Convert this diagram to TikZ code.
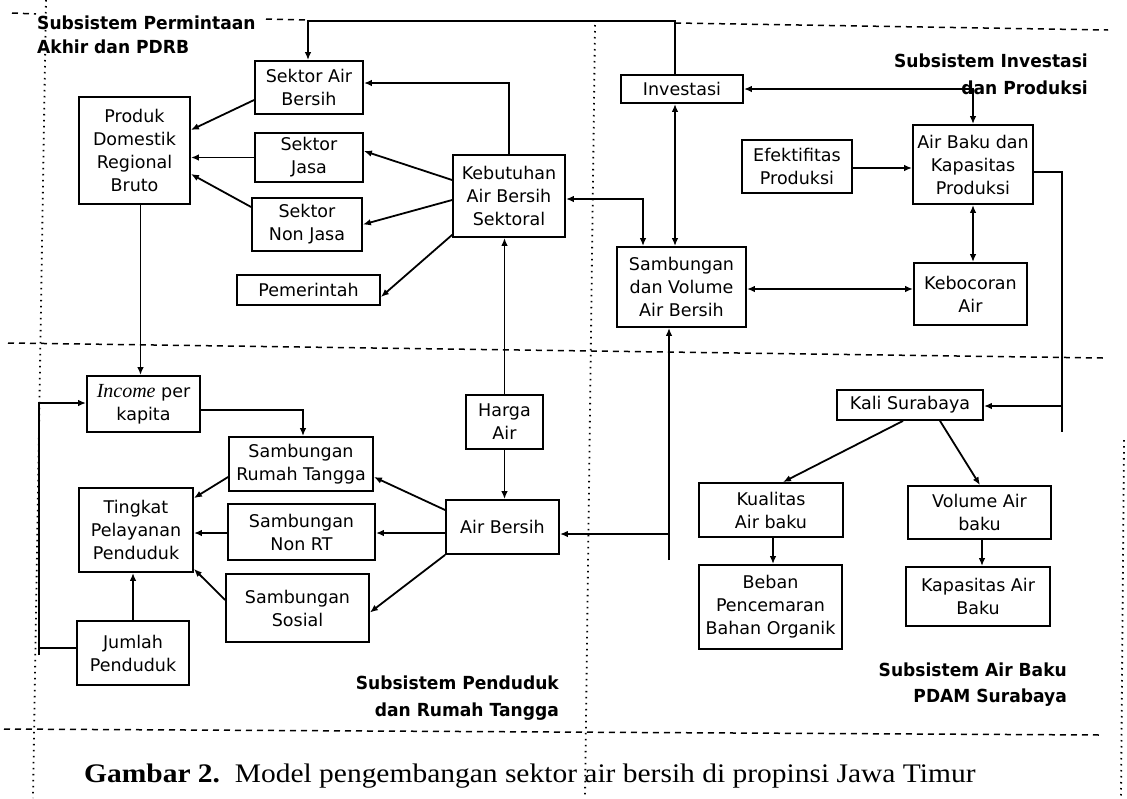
\documentclass[tikz,border=0pt]{standalone}
\usepackage{fontspec}
\setmainfont{DejaVu Sans}
\newfontfamily\boxfont{DejaVu Sans}
\newfontfamily\titlefont{DejaVu Sans}[FakeStretch=0.95]
\newfontfamily\seriffont{Liberation Serif}
\newfontfamily\capfont{Liberation Serif}[FakeStretch=1.1]
\usetikzlibrary{arrows.meta}
\begin{document}
\begin{tikzpicture}[x=1pt,y=-1pt,
  box/.style={draw, line width=1.8pt, inner sep=0pt, align=center, font=\boxfont\fontsize{17.5}{23}\selectfont},
  conn/.style={line width=1.8pt, -{Latex[length=8pt,width=6.5pt]}},
  biconn/.style={line width=1.8pt, {Latex[length=8pt,width=6.5pt]}-{Latex[length=8pt,width=6.5pt]}},
  plain/.style={line width=1.8pt},
  hdash/.style={line width=1.5pt, dash pattern=on 6pt off 5pt},
  vdot/.style={line width=1.8pt, dash pattern=on 1.5pt off 4.5pt},
  ttl/.style={inner sep=0pt, font=\titlefont\bfseries\fontsize{18}{24}\selectfont}
]
\useasboundingbox (0,0) rectangle (1127,798);

% region borders
\draw[hdash] (12,13) -- (36,14);
\draw[hdash] (266,19) -- (308,20);
\draw[hdash] (675,23) -- (1108,30);
\draw[hdash] (8,343) -- (1103,358);
\draw[hdash] (4,729) -- (1100,735);
\draw[vdot] (46,0) -- (33,798);
\draw[vdot] (595,25) -- (585,798);
\draw[vdot] (1124,440) -- (1121,798);

% titles
\node[ttl, anchor=north west, align=left] (tperm) at (37,16) {Subsistem Permintaan\\Akhir dan PDRB};
\node[ttl, anchor=north east, align=right] (tinv) at (1088,54) {Subsistem Investasi\\[3pt]dan Produksi};
\node[ttl, anchor=north east, align=right] (tpend) at (559,676) {Subsistem Penduduk\\[3pt]dan Rumah Tangga};
\node[ttl, anchor=north east, align=right] (tair) at (1067,663) {Subsistem Air Baku\\[2pt]PDAM Surabaya};

% boxes
\node[box, minimum width=108pt, minimum height=53pt] (secab) at (309,87.5) {Sektor Air\\Bersih};
\node[box, minimum width=111pt, minimum height=107pt] (pdrb) at (134.5,150.5) {Produk\\Domestik\\Regional\\Bruto};
\node[box, minimum width=108pt, minimum height=49pt] (jasa) at (309,157.5) {Sektor\\Jasa};
\node[box, minimum width=110pt, minimum height=53pt] (nonjasa) at (307,224.5) {Sektor\\Non Jasa};
\node[box, minimum width=143pt, minimum height=30pt] (pemerintah) at (308.5,290) {Pemerintah};
\node[box, minimum width=112pt, minimum height=82pt] (kebutuhan) at (509,196) {Kebutuhan\\Air Bersih\\Sektoral};
\node[box, minimum width=122pt, minimum height=28pt] (investasi) at (682,89) {Investasi};
\node[box, minimum width=110pt, minimum height=53pt] (efektif) at (797,166.5) {Efektifitas\\Produksi};
\node[box, minimum width=120pt, minimum height=79pt] (airbaku) at (973,164.5) {Air Baku dan\\Kapasitas\\Produksi};
\node[box, minimum width=129pt, minimum height=80pt] (sambvol) at (681.5,287) {Sambungan\\dan Volume\\Air Bersih};
\node[box, minimum width=113pt, minimum height=62pt] (bocor) at (970.5,294) {Kebocoran\\Air};
\node[box, minimum width=113pt, minimum height=56pt] (income) at (143.5,404) {{\seriffont\itshape\fontsize{20}{23}\selectfont Income} per\\kapita};
\node[box, minimum width=144pt, minimum height=54pt] (srt) at (301,464) {Sambungan\\Rumah Tangga};
\node[box, minimum width=114pt, minimum height=84pt] (tingkat) at (136,530) {Tingkat\\Pelayanan\\Penduduk};
\node[box, minimum width=147pt, minimum height=56pt] (snonrt) at (301.5,532) {Sambungan\\Non RT};
\node[box, minimum width=143pt, minimum height=68pt] (ssosial) at (297.5,608) {Sambungan\\Sosial};
\node[box, minimum width=112pt, minimum height=64pt] (jumlah) at (133,653) {Jumlah\\Penduduk};
\node[box, minimum width=77pt, minimum height=54pt] (harga) at (504.5,422) {Harga\\Air};
\node[box, minimum width=113pt, minimum height=54pt] (airbersih) at (502.5,527) {Air Bersih};
\node[box, minimum width=146pt, minimum height=30pt] (kali) at (910,405) {Kali Surabaya};
\node[box, minimum width=144pt, minimum height=54pt] (kualitas) at (771,510) {Kualitas\\Air baku};
\node[box, minimum width=143pt, minimum height=53pt] (volume) at (979.5,512.5) {Volume Air\\baku};
\node[box, minimum width=143pt, minimum height=84pt] (beban) at (770.5,607) {Beban\\Pencemaran\\Bahan Organik};
\node[box, minimum width=144pt, minimum height=59pt] (kapasitas) at (978,596.5) {Kapasitas Air\\Baku};

% connectors
\coordinate (t1) at (675,21);
\coordinate (t2) at (308,21);
\draw[conn] ([xshift=-7pt]investasi.north) -- (t1) -- (t2) -- ([xshift=-1pt]secab.north);
\draw[conn] (kebutuhan.north) |- ([yshift=4.5pt]secab.east);
\draw[conn] ([yshift=-12.5pt]secab.west) -- ([yshift=20.5pt]pdrb.east);
\draw[conn] (jasa.west) -- ([yshift=-7pt]pdrb.east);
\draw[conn] ([yshift=17.5pt]nonjasa.west) -- ([yshift=-23.5pt]pdrb.east);
\draw[conn] ([yshift=16pt]kebutuhan.west) -- ([yshift=6.5pt]jasa.east);
\draw[conn] ([yshift=-4pt]kebutuhan.west) -- (nonjasa.east);
\draw[conn] ([yshift=3pt]kebutuhan.south west) -- ([yshift=-7pt]pemerintah.east);
\draw[biconn] ([yshift=-3pt]kebutuhan.east) -| ([xshift=-38.5pt]sambvol.north);
\draw[biconn] ([xshift=-7pt]investasi.south) -- ([xshift=-6.5pt]sambvol.north);
\draw[conn] (harga.north) -- ([xshift=-4.5pt]kebutuhan.south);
\draw[conn] (harga.south) -- ([xshift=2pt]airbersih.north);
\draw[conn] ([yshift=17pt]airbersih.west) -- ([yshift=-13pt]srt.east);
\draw[conn] ([yshift=-6pt]airbersih.west) -- ([yshift=-1pt]snonrt.east);
\draw[conn] (airbersih.south west) -- ([yshift=-4.5pt]ssosial.east);
\draw[conn] ([yshift=-13pt]srt.west) -- ([yshift=-11pt]tingkat.north east);
\draw[conn] ([yshift=-1pt]snonrt.west) -- ([yshift=-3pt]tingkat.east);
\draw[conn] ([yshift=8pt]ssosial.west) -- ([yshift=4pt]tingkat.south east);
\draw[conn] (jumlah.north) -- ([xshift=-3pt]tingkat.south);
\coordinate (lb) at (39,648);
\coordinate (lt) at (39,403);
\coordinate (le) at (39,655);
\draw[plain] (le) -- (lb);
\draw[conn] ([yshift=5pt]jumlah.west) -- (lb) -- (lt) -- ([yshift=1pt]income.west);
\draw[conn] ([xshift=6pt]pdrb.south) -- ([xshift=-3pt]income.north);
\draw[conn] ([yshift=-6pt]income.east) -| ([xshift=2pt]srt.north);
\coordinate (vb) at (669,560);
\coordinate (vj) at (669,534);
\draw[conn] (vb) -- (vb |- sambvol.south);
\draw[conn] (vj) -- (vj -| airbersih.east);
\draw[biconn] ([yshift=-2pt]sambvol.east) -- ([yshift=5pt]bocor.west);
\draw[conn] ([yshift=-1.5pt]efektif.east) -- ([yshift=-3.5pt]airbaku.west);
\coordinate (ij) at (973,89);
\draw[biconn] (investasi.east) -- (ij) -- (airbaku.north);
\draw[biconn] (airbaku.south) -- ([xshift=2.5pt]bocor.north);
\coordinate (rt) at (1062,172);
\coordinate (rb) at (1062,432);
\coordinate (rj) at (1062,406);
\draw[plain] ([yshift=-7.5pt]airbaku.east) -- (rt) -- (rb);
\draw[conn] (rj) -- ([yshift=-1pt]kali.east);
\draw[conn] ([xshift=-7pt]kali.south) -- ([xshift=12pt]kualitas.north);
\draw[conn] ([xshift=30pt]kali.south) -- ([xshift=0.5pt]volume.north);
\draw[conn] ([xshift=2pt]kualitas.south) -- ([xshift=2.5pt]beban.north);
\draw[conn] ([xshift=2.5pt]volume.south) -- ([xshift=4pt]kapasitas.north);

% caption
\node[anchor=base west, inner sep=0pt, font=\capfont\fontsize{26.8}{30}\selectfont] (cap) at (84,782) {\textbf{Gambar 2.}\ \ Model pengembangan sektor air bersih di propinsi Jawa Timur};
\end{tikzpicture}
\end{document}
